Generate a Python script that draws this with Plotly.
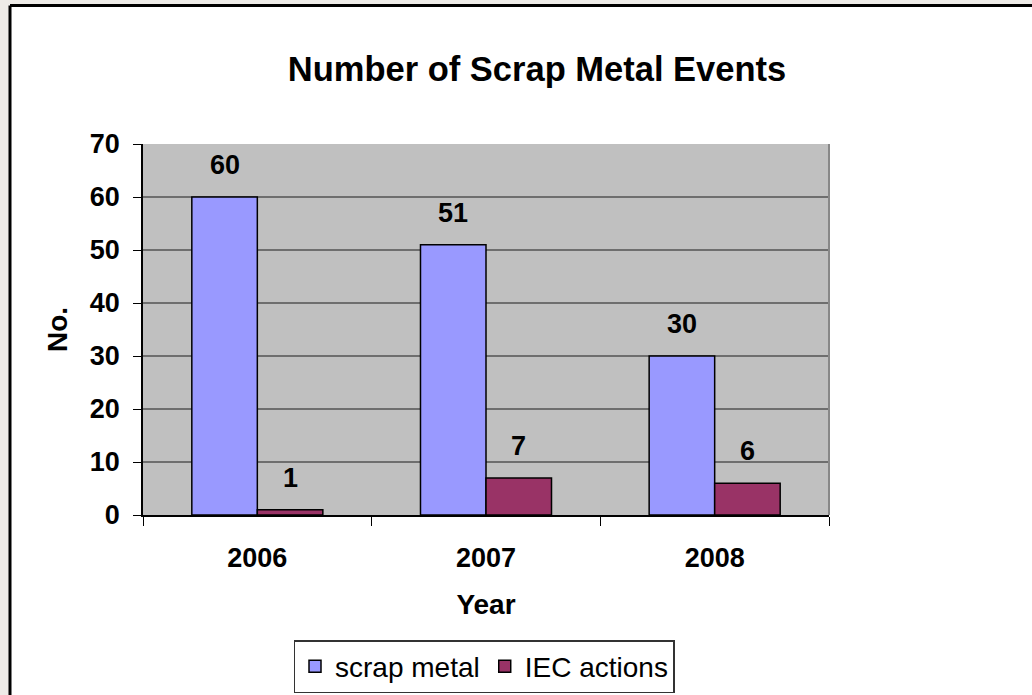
import plotly.graph_objects as go

# Scrap metal events per year
years = ["2006", "2007", "2008"]
scrap_metal = [60, 51, 30]
iec_actions = [1, 7, 6]
y_ticks = [0, 10, 20, 30, 40, 50, 60, 70]

FONT = "Arial, Liberation Sans, sans-serif"
W, H = 1032, 695
L, R, T, B = 143, 203, 144, 180
PW, PH = W - L - R, H - T - B


def xp(px):
    return (px - L) / PW


def yp(py):
    return (H - B - py) / PH


fig = go.Figure()
fig.add_bar(name="scrap metal", x=years, y=scrap_metal,
            marker=dict(color="#9999FF", line=dict(color="black", width=1.5)))
fig.add_bar(name="IEC actions", x=years, y=iec_actions,
            marker=dict(color="#993366", line=dict(color="black", width=1.5)))

# value labels above each bar (category index on the x axis)
bar_half = PW / 3 * (1 - 0.427) / 4
annotations = []
for series, shift in ((scrap_metal, -bar_half), (iec_actions, bar_half)):
    for i, v in enumerate(series):
        annotations.append(dict(
            x=i, y=v, xref="x", yref="y", text=str(v), showarrow=False,
            xshift=shift, yshift=15, yanchor="bottom",
            font=dict(family=FONT, size=27, color="black", weight="bold")))

shapes = [
    # outer frame strips and border
    dict(type="rect", xref="paper", yref="paper", x0=xp(-5), x1=xp(9), y0=yp(-5), y1=yp(705),
         fillcolor="#EEEBE7", line=dict(width=0), layer="below"),
    dict(type="rect", xref="paper", yref="paper", x0=xp(-5), x1=xp(1040), y0=yp(-5), y1=yp(4.5),
         fillcolor="#EEEBE7", line=dict(width=0), layer="below"),
    dict(type="line", xref="paper", yref="paper", x0=xp(10), x1=xp(10), y0=yp(5.5), y1=yp(705),
         line=dict(color="black", width=3)),
    dict(type="line", xref="paper", yref="paper", x0=xp(10), x1=xp(1040), y0=yp(5.5), y1=yp(5.5),
         line=dict(color="black", width=3)),
    # plot area right edge
    dict(type="line", xref="paper", yref="paper", x0=1, x1=1, y0=0, y1=1,
         line=dict(color="#888888", width=2)),
]

fig.update_layout(
    width=W, height=H,
    margin=dict(l=L, r=R, t=T, b=B, autoexpand=False),
    paper_bgcolor="white", plot_bgcolor="#C0C0C0",
    barmode="group", bargap=0.427, bargroupgap=0,
    font=dict(family=FONT, color="black"),
    title=dict(text="<b>Number of Scrap Metal Events</b>", xref="paper", x=xp(537),
               xanchor="center", yref="container", y=1 - 69 / H, yanchor="middle",
               font=dict(family=FONT, size=34.5, color="black")),
    xaxis=dict(
        type="category", range=[-0.5, 2.5], showline=True, linecolor="black", linewidth=1.5,
        ticks="outside", ticklen=9, tickcolor="black", tickwidth=1.2,
        tickson="boundaries", showgrid=False, ticklabelstandoff=18, tickangle=0,
        tickfont=dict(family=FONT, size=27, color="black", weight="bold"),
        title=dict(text="<b>Year</b>", standoff=22,
                   font=dict(family=FONT, size=28, color="black")),
    ),
    yaxis=dict(
        range=[0, 70], tickvals=y_ticks, showline=True, linecolor="black", linewidth=1.5,
        ticks="outside", ticklen=8, tickcolor="black", tickwidth=1.2,
        showgrid=True, gridcolor="#6e6e6e", gridwidth=1.5, zeroline=False,
        ticklabelstandoff=8,
        tickfont=dict(family=FONT, size=27, color="black", weight="bold"),
        title=dict(text="<b>No.</b>", standoff=14,
                   font=dict(family=FONT, size=28, color="black")),
    ),
    legend=dict(orientation="h", x=xp(484), xanchor="center", y=yp(640), yanchor="top",
                bordercolor="#333333", borderwidth=1.5, bgcolor="white",
                font=dict(family=FONT, size=28, color="black")),
    annotations=annotations,
    shapes=shapes,
)

fig.write_html("out.html")
